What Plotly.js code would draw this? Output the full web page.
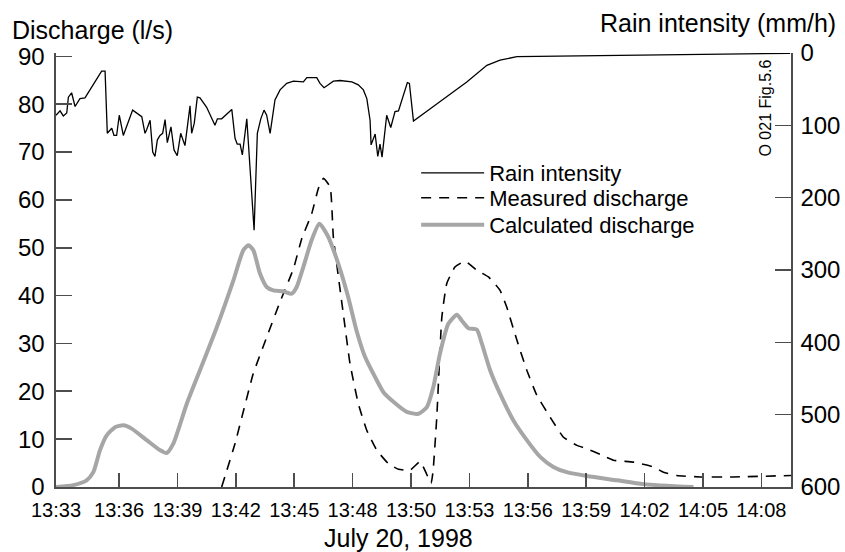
<!DOCTYPE html>
<html>
<head>
<meta charset="utf-8">
<script src="https://cdn.plot.ly/plotly-3.0.1.min.js"></script>
<style>html,body{margin:0;padding:0;background:#fff;}#chart{width:845px;height:552px;}</style>
</head>
<body>
<div id="chart"></div>
<script>
// time axis: minutes after 13:33 (axis origin)
const xTickPos = [0, 3.11, 5.99, 8.87, 11.75, 14.63, 17.51, 20.39, 23.27, 26.15, 29.03, 31.91, 34.79];
const xTickLabels = ["13:33", "13:36", "13:39", "13:42", "13:45", "13:48", "13:50", "13:53", "13:56", "13:59", "14:02", "14:05", "14:08"];
const leftTicks = [0, 10, 20, 30, 40, 50, 60, 70, 80, 90];
const rightTicks = [0, 100, 200, 300, 400, 500, 600];

// Rain intensity (mm/h), right axis (reversed)
const rainTime = [0.0, 0.20, 0.36, 0.53, 0.61, 0.77, 0.94, 1.18, 1.43, 2.25, 2.42, 2.53, 2.75, 2.86, 2.99, 3.12, 3.32, 3.78, 4.23, 4.39, 4.47, 4.64, 4.77, 4.88, 5.00, 5.13, 5.26, 5.38, 5.49, 5.67, 5.82, 5.98, 6.15, 6.36, 6.61, 6.69, 6.82, 6.97, 7.10, 7.43, 7.84, 7.96, 8.17, 8.67, 8.83, 8.94, 9.08, 9.19, 9.41, 9.77, 9.93, 10.10, 10.26, 10.39, 10.56, 10.80, 11.05, 11.38, 11.71, 12.20, 12.37, 12.86, 13.02, 13.22, 13.43, 13.68, 14.01, 14.59, 14.91, 15.16, 15.33, 15.49, 15.54, 15.74, 15.87, 15.98, 16.08, 16.31, 16.51, 16.72, 16.89, 17.13, 17.33, 17.43, 17.63, 18.61, 19.44, 20.26, 21.25, 21.90, 22.73, 25.19, 30.13, 36.21];
const rainIntensity = [86, 80, 87, 83, 61, 55, 74, 63, 62, 25, 25, 111, 104, 114, 114, 86, 114, 79, 88, 111, 106, 93, 137, 143, 120, 114, 111, 92, 124, 102, 134, 142, 111, 128, 73, 111, 97, 61, 62, 75, 100, 91, 91, 78, 118, 126, 126, 141, 91, 245, 111, 91, 79, 86, 111, 65, 51, 42, 39, 40, 34, 34, 42, 48, 44, 39, 38, 40, 44, 51, 63, 93, 127, 112, 143, 126, 144, 86, 103, 81, 80, 58, 41, 42, 94, 74, 57, 40, 17, 10, 5, 4.3, 3, 0.5];

// Measured discharge (l/s), left axis
const measuredTime = [8.17, 8.83, 9.73, 10.39, 11.05, 11.71, 12.12, 12.61, 12.94, 13.19, 13.52, 13.68, 14.17, 14.50, 14.91, 15.33, 15.82, 16.39, 16.89, 17.46, 17.96, 18.50, 18.60, 18.78, 19.03, 19.27, 19.68, 20.18, 20.75, 21.33, 21.90, 22.23, 22.73, 23.22, 23.71, 24.37, 25.03, 25.69, 26.18, 26.84, 27.49, 28.48, 29.47, 29.96, 30.62, 31.77, 33.41, 36.25];
const measuredDischarge = [0, 9.1, 23.7, 31.3, 38.7, 45.6, 51.9, 57.1, 62.4, 64.5, 62.7, 52.2, 36.2, 25.8, 17.4, 11.8, 7.7, 4.9, 3.7, 3.5, 5.3, 0.8, 3.5, 14.6, 35.5, 42.5, 46.0, 47.2, 45.3, 43.9, 41.1, 37.6, 30.7, 24.4, 19.2, 14.6, 10.4, 8.7, 8.0, 6.8, 5.6, 5.2, 4.2, 3.1, 2.4, 2.1, 2.1, 2.4];

// Calculated discharge (l/s), left axis
const calcTime = [0, 0.85, 1.51, 1.84, 2.17, 2.50, 2.91, 3.32, 3.73, 4.47, 5.13, 5.46, 5.79, 6.45, 7.10, 7.93, 8.75, 9.24, 9.49, 9.73, 10.06, 10.39, 10.72, 11.21, 11.63, 11.87, 12.20, 12.61, 12.99, 13.40, 13.92, 14.41, 14.82, 15.24, 15.82, 16.15, 16.64, 17.30, 17.87, 18.29, 18.61, 18.94, 19.35, 19.77, 20.01, 20.34, 20.75, 21.00, 21.41, 21.90, 22.56, 23.22, 23.88, 24.53, 25.19, 26.18, 27.66, 28.97, 31.44];
const calcDischarge = [0, 0.4, 1.4, 3.1, 7.7, 10.8, 12.5, 12.9, 12.2, 9.8, 7.7, 7.1, 9.1, 17.4, 24.4, 33.4, 43.2, 49.5, 50.5, 49.5, 44.6, 41.8, 41.1, 40.9, 40.4, 41.8, 46.0, 51.6, 55.0, 52.5, 46.7, 39.7, 32.7, 27.2, 22.3, 19.8, 17.8, 15.7, 15.3, 16.7, 20.9, 27.9, 34.1, 36.0, 34.8, 33.2, 32.9, 30.0, 24.4, 19.5, 13.9, 9.8, 6.3, 4.2, 3.1, 2.3, 1.4, 0.6, 0];

const FONT = "Liberation Sans, Arial, Helvetica, sans-serif";
const AXC = "#4d4d4d";

const traces = [
  {x: rainTime, y: rainIntensity, name: "Rain intensity", type: "scatter", mode: "lines",
   yaxis: "y2", legend: "legend", line: {color: "#000", width: 1.3}},
  {x: measuredTime, y: measuredDischarge, name: "Measured discharge", type: "scatter", mode: "lines",
   legend: "legend2", line: {color: "#000", width: 1.6, dash: "10px,8px", shape: "spline", smoothing: 0.4}},
  {x: calcTime, y: calcDischarge, name: "Calculated discharge", type: "scatter", mode: "lines",
   legend: "legend3", line: {color: "#a6a6a6", width: 4, shape: "spline", smoothing: 0.6}}
];

function mkLegend(yv) {
  return {x: 0.49, y: yv, xanchor: "left", yanchor: "middle", bgcolor: "rgba(0,0,0,0)",
          font: {size: 22, family: FONT, color: "#000"}, itemwidth: 63};
}

const axisCommon = {ticks: "inside", tickwidth: 1.6, tickcolor: AXC, showline: true, linecolor: AXC,
                    linewidth: 1.6, showgrid: false, zeroline: false, fixedrange: true};

const layout = {
  width: 845, height: 552,
  margin: {l: 56, r: 54, t: 53, b: 65},
  paper_bgcolor: "#fff", plot_bgcolor: "rgba(0,0,0,0)",
  font: {family: FONT, color: "#000"},
  showlegend: true,
  legend: mkLegend(0.7235),
  legend2: mkLegend(0.666),
  legend3: mkLegend(0.6037),
  xaxis: Object.assign({}, axisCommon, {range: [0, 36.25], tickmode: "array", tickvals: xTickPos, ticktext: xTickLabels,
          ticklen: 14, ticklabelstandoff: 4, tickfont: {size: 20, family: FONT, color: "#000"}}),
  yaxis: Object.assign({}, axisCommon, {range: [0, 90.7], tickmode: "array", tickvals: leftTicks,
          ticklen: 16, ticklabelstandoff: 5, tickfont: {size: 24, family: FONT, color: "#000"}}),
  yaxis2: Object.assign({}, axisCommon, {range: [600, 0], overlaying: "y", side: "right", tickmode: "array",
          tickvals: rightTicks, ticklen: 16, ticklabelstandoff: 3, tickfont: {size: 24, family: FONT, color: "#000"}}),
  annotations: [
    {text: "Discharge (l/s)", xref: "paper", yref: "paper", x: -0.062, y: 1.053, xanchor: "left", yanchor: "middle",
     showarrow: false, font: {size: 25, family: FONT, color: "#000"}},
    {text: "Rain intensity (mm/h)", xref: "paper", yref: "paper", x: 1.064, y: 1.07, xanchor: "right", yanchor: "middle",
     showarrow: false, font: {size: 25, family: FONT, color: "#000"}},
    {text: "July 20, 1998", xref: "paper", yref: "paper", x: 0.466, y: -0.118, xanchor: "center", yanchor: "middle",
     showarrow: false, font: {size: 25, family: FONT, color: "#000"}},
    {text: "O 021 Fig.5.6", xref: "paper", yref: "paper", x: 0.966, y: 0.872, xanchor: "center", yanchor: "middle",
     textangle: -90, showarrow: false, font: {size: 16, family: FONT, color: "#000"}}
  ]
};

Plotly.newPlot("chart", traces, layout, {staticPlot: true, displayModeBar: false});
</script>
</body>
</html>
